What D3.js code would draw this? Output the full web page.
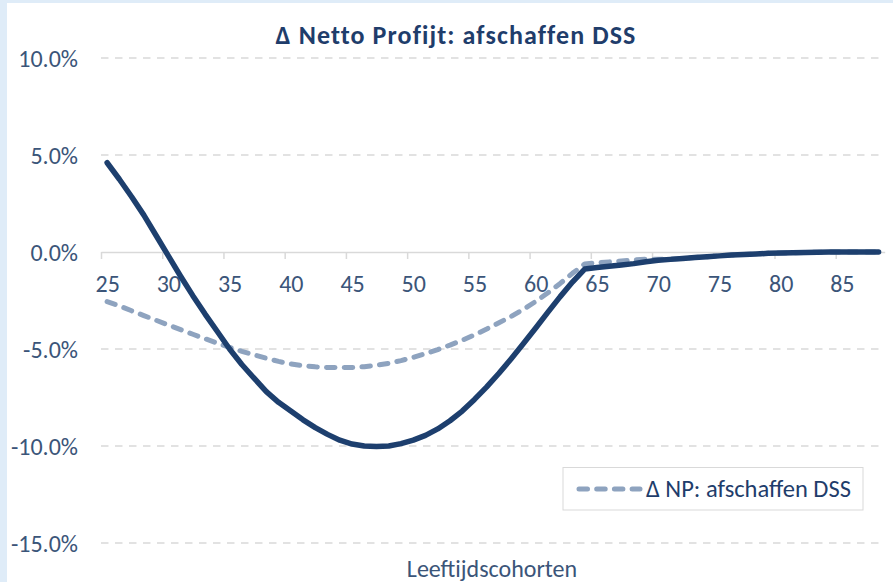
<!DOCTYPE html>
<html>
<head>
<meta charset="utf-8">
<script src="https://cdn.jsdelivr.net/npm/d3@7"></script>
<style>
  body { margin: 0; background: #dfecf8; }
  svg { display: block; }
  text { font-family: Calibri, Carlito, Lato, sans-serif; }
</style>
</head>
<body>
<svg></svg>
<script>
// ages 25..88, one point per year
var ages = d3.range(25, 89);

// Δ Netto Profijt (solid), in %
var nettoProfijt = [
   4.6,  3.75,  2.85,  1.9,   0.85, -0.2,  -1.25, -2.25, -3.2,  -4.1,
  -5.0, -5.8,  -6.5,  -7.2,  -7.75, -8.2,  -8.65, -9.05, -9.4,  -9.7,
  -9.9, -10.0, -10.03, -10.0, -9.88, -9.7, -9.45, -9.12, -8.7,  -8.2,
  -7.6, -6.95, -6.25, -5.5,  -4.72, -3.92, -3.1,  -2.3,  -1.55, -0.88,
  -0.8, -0.74, -0.67, -0.6,  -0.5,  -0.43, -0.38, -0.33, -0.28, -0.24,
  -0.2, -0.16, -0.13, -0.1,  -0.07, -0.05, -0.04, -0.02, -0.01,  0,
   0,    0,     0,     0
];

// Δ NP: afschaffen DSS (dashed), in %
var npAfschaffen = [
  -2.56, -2.78, -3.03, -3.28, -3.52, -3.76, -4.0,  -4.24, -4.47, -4.7,
  -4.92, -5.12, -5.3,  -5.48, -5.64, -5.77, -5.86, -5.92, -5.95, -5.96,
  -5.95, -5.91, -5.84, -5.74, -5.6,  -5.43, -5.24, -5.03, -4.8,  -4.55,
  -4.27, -3.97, -3.65, -3.32, -2.95, -2.55, -2.1,  -1.62, -1.1,  -0.62,
  -0.56, -0.51, -0.46, -0.41, -0.37, -0.38, -0.36, -0.33, -0.28, -0.24,
  -0.2,  -0.16, -0.13, -0.1,  -0.07, -0.05, -0.04, -0.02, -0.01,  0,
   0,     0,     0,     0
];

var yTicks = [-0.15, -0.10, -0.05, 0, 0.05, 0.10];
var xTickAges = [25, 30, 35, 40, 45, 50, 55, 60, 65, 70, 75, 80, 85];

var title = 'Δ Netto Profijt: afschaffen DSS';
var legendLabel = 'Δ NP: afschaffen DSS';
var xTitle = 'Leeftijdscohorten';

var width = 893;
var height = 582;
var plotLeft = 101, plotRight = 884.7, plotTop = 58, plotBottom = 543;

var solidColor = '#1d3f6e';
var dashColor = '#8ea3bf';
var gridColor = '#d9d9d9';
var labelColor = '#3b5579';

// Excel style percent, plain hyphen for negatives
var pct = d => (d < 0 ? '-' : '') + d3.format('.1%')(Math.abs(d));

var svg = d3.select('svg')
            .attr('width', width)
            .attr('height', height);

svg.append('rect')
    .attr('x', 7)
    .attr('y', 3)
    .attr('width', width - 7)
    .attr('height', height - 3)
    .attr('fill', 'white');

// category boundaries sit at age - 0.5
var xScale = d3.scaleLinear()
               .domain([24.5, 88.5])
               .range([plotLeft, plotRight]);

var yScale = d3.scaleLinear()
               .domain([-0.15, 0.10])
               .range([plotBottom, plotTop]);

// gridlines
svg.append('g')
    .selectAll('line')
    .data(yTicks.filter(d => d !== 0))
    .enter()
    .append('line')
      .attr('x1', plotLeft)
      .attr('x2', plotRight)
      .attr('y1', d => yScale(d))
      .attr('y2', d => yScale(d))
      .attr('stroke', gridColor)
      .attr('stroke-width', 1.5)
      .attr('stroke-dasharray', '7.5,6.5');

// y labels
svg.append('g')
    .selectAll('text')
    .data(yTicks)
    .enter()
    .append('text')
      .attr('x', 78)
      .attr('y', d => yScale(d))
      .attr('dy', '0.36em')
      .attr('text-anchor', 'end')
      .attr('fill', labelColor)
      .style('font-size', '24px')
      .text(pct);

// x axis on the zero line
var xAxis = d3.axisBottom(xScale)
              .tickValues(xTickAges.map(a => a - 0.5))
              .tickSize(7)
              .tickSizeOuter(0)
              .tickFormat(d => d + 0.5);

var gx = svg.append('g')
    .attr('transform', 'translate(0,' + yScale(0) + ')')
    .call(xAxis);

gx.select('.domain')
    .attr('stroke', gridColor)
    .attr('stroke-width', 1.5);
gx.selectAll('.tick line')
    .attr('stroke', gridColor)
    .attr('stroke-width', 1.5);
gx.selectAll('.tick text')
    .attr('x', (xScale(1) - xScale(0)) / 2)
    .attr('y', 39.5)
    .attr('dy', 0)
    .attr('fill', labelColor)
    .style('font-size', '24px')
    .style('font-family', 'Calibri, Carlito, Lato, sans-serif');

var line = d3.line()
             .x((d, i) => xScale(ages[i]))
             .y(d => yScale(d / 100));

svg.append('path')
    .datum(npAfschaffen)
    .attr('d', line)
    .attr('fill', 'none')
    .attr('stroke', dashColor)
    .attr('stroke-width', 5)
    .attr('stroke-linecap', 'round')
    .attr('stroke-linejoin', 'round')
    .attr('stroke-dasharray', '8.5,9.2');

svg.append('path')
    .datum(nettoProfijt)
    .attr('d', line)
    .attr('fill', 'none')
    .attr('stroke', solidColor)
    .attr('stroke-width', 5.5)
    .attr('stroke-linecap', 'round')
    .attr('stroke-linejoin', 'round');

// title
svg.append('text')
    .attr('x', 456)
    .attr('y', 44.3)
    .attr('text-anchor', 'middle')
    .attr('fill', '#1f3d6b')
    .style('font-size', '26px')
    .style('font-weight', 'bold')
    .style('letter-spacing', '1.1px')
    .text(title);

// legend
svg.append('rect')
    .attr('x', 563)
    .attr('y', 467.5)
    .attr('width', 300)
    .attr('height', 42.5)
    .attr('fill', 'white')
    .attr('stroke', gridColor)
    .attr('stroke-width', 1);

svg.append('line')
    .attr('x1', 579)
    .attr('x2', 640)
    .attr('y1', 489)
    .attr('y2', 489)
    .attr('stroke', dashColor)
    .attr('stroke-width', 5)
    .attr('stroke-linecap', 'round')
    .attr('stroke-dasharray', '8.5,9.2');

svg.append('text')
    .attr('x', 646)
    .attr('y', 497)
    .attr('fill', '#1f3d6b')
    .style('font-size', '24.5px')
    .text(legendLabel);

// x title
svg.append('text')
    .attr('x', 492)
    .attr('y', 576.5)
    .attr('text-anchor', 'middle')
    .attr('fill', labelColor)
    .style('font-size', '24px')
    .text(xTitle);
</script>
</body>
</html>
